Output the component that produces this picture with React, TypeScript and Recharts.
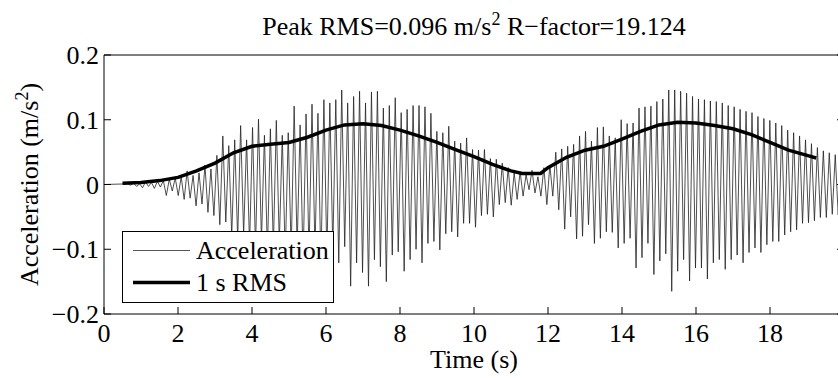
import { LineChart, Line, XAxis, YAxis, Legend, Label } from "recharts";

const xTicks = [0, 2, 4, 6, 8, 10, 12, 14, 16, 18];
const yTicks = [-0.2, -0.1, 0, 0.1, 0.2];
const legendOrder = ["Acceleration", "1 s RMS"];

// acceleration record: one upper and one lower peak per cycle (~6.2 Hz)
const accelStart = 0.64;
const accelPeriod = 0.1607;
const accelPeaks = [
  0.001, 0.002, 0.001, 0.004, 0.003, 0.005, 0.006, 0.008, 0.01, 0.012,
  0.021, 0.014, 0.018, 0.03, 0.024, 0.045, 0.075, 0.06, 0.069, 0.091,
  0.069, 0.088, 0.101, 0.076, 0.086, 0.099, 0.076, 0.08, 0.121, 0.092,
  0.109, 0.124, 0.11, 0.131, 0.126, 0.131, 0.146, 0.126, 0.136, 0.144,
  0.126, 0.143, 0.144, 0.118, 0.122, 0.134, 0.111, 0.116, 0.122, 0.122,
  0.12, 0.11, 0.082, 0.08, 0.09, 0.067, 0.064, 0.072, 0.054, 0.053,
  0.054, 0.04, 0.039, 0.033, 0.026, 0.018, 0.02, 0.015, 0.022, 0.012,
  0.026, 0.03, 0.05, 0.055, 0.059, 0.062, 0.075, 0.082, 0.067, 0.088,
  0.089, 0.075, 0.072, 0.1, 0.094, 0.095, 0.118, 0.12, 0.121, 0.128,
  0.132, 0.146, 0.146, 0.144, 0.141, 0.136, 0.132, 0.131, 0.129, 0.128,
  0.126, 0.122, 0.12, 0.116, 0.113, 0.111, 0.105, 0.102, 0.099, 0.095,
  0.091, 0.084, 0.08, 0.075, 0.069, 0.063, 0.057, 0.052, 0.049, 0.046,
  0.045,
];
const accelTroughs = [
  -0.001, -0.003, -0.005, -0.003, -0.006, -0.004, -0.017, -0.01, -0.017, -0.023,
  -0.021, -0.033, -0.03, -0.043, -0.048, -0.062, -0.058, -0.08, -0.085, -0.078,
  -0.095, -0.1, -0.088, -0.105, -0.098, -0.092, -0.112, -0.104, -0.098, -0.122,
  -0.108, -0.103, -0.128, -0.112, -0.1, -0.121, -0.096, -0.157, -0.121, -0.136,
  -0.157, -0.116, -0.127, -0.15, -0.109, -0.104, -0.134, -0.116, -0.1, -0.121,
  -0.091, -0.088, -0.101, -0.076, -0.073, -0.081, -0.06, -0.06, -0.066, -0.048,
  -0.046, -0.05, -0.031, -0.028, -0.032, -0.023, -0.018, -0.008, -0.013, -0.018,
  -0.031, -0.018, -0.039, -0.069, -0.05, -0.084, -0.08, -0.062, -0.091, -0.083,
  -0.073, -0.074, -0.098, -0.091, -0.083, -0.129, -0.113, -0.091, -0.139, -0.118,
  -0.107, -0.165, -0.134, -0.116, -0.149, -0.129, -0.129, -0.146, -0.121, -0.116,
  -0.131, -0.116, -0.109, -0.121, -0.105, -0.098, -0.105, -0.093, -0.088, -0.088,
  -0.078, -0.073, -0.07, -0.06, -0.059, -0.056, -0.051, -0.051, -0.046, -0.047,
  -0.045,
];

const rmsTimes = [
  0.5, 1, 1.5, 2, 2.5, 3, 3.5, 4, 4.5, 5, 5.5, 6, 6.5, 7, 7.5, 8, 8.5, 9, 9.5, 10,
  10.5, 11, 11.3, 11.8, 12, 12.5, 13, 13.5, 14, 14.5, 15, 15.5, 16, 16.5, 17, 17.5,
  18, 18.5, 19, 19.25,
];
const rmsValues = [
  0.002, 0.003, 0.006, 0.011, 0.021, 0.033, 0.049, 0.059, 0.062, 0.065, 0.073, 0.084,
  0.092, 0.094, 0.091, 0.084, 0.075, 0.065, 0.054, 0.043, 0.031, 0.021, 0.017, 0.017,
  0.026, 0.042, 0.053, 0.059, 0.07, 0.082, 0.092, 0.096, 0.095, 0.091, 0.086, 0.077,
  0.065, 0.053, 0.045, 0.041,
];

const accelData: { t: number; a: number }[] = [{ t: 0, a: 0 }];
accelPeaks.forEach((p, i) => {
  const t = accelStart + i * accelPeriod;
  accelData.push({ t, a: p });
  accelData.push({ t: t + accelPeriod / 2, a: accelTroughs[i] });
});
const rmsData = rmsTimes.map((t, i) => ({ t, rms: rmsValues[i] }));

const font = "'Liberation Serif', 'Times New Roman', serif";
const fmtY = (v: number) => (v < 0 ? "\u2212" + Math.abs(v) : String(v));

const BottomTick = ({ x, y, payload }: any) => (
  <g>
    <line x1={x} y1={y} x2={x} y2={y - 7} stroke="#000" />
    <text x={x} y={y + 28} textAnchor="middle" fontSize={26} fontFamily={font} fill="#000">
      {payload.value}
    </text>
  </g>
);
const TopTick = ({ x, y }: any) => <line x1={x} y1={y} x2={x} y2={y + 7} stroke="#000" />;
const LeftTick = ({ x, y, payload }: any) => (
  <g>
    <line x1={x} y1={y} x2={x + 7} y2={y} stroke="#000" />
    <text x={x - 5} y={y + 9} textAnchor="end" fontSize={26} fontFamily={font} fill="#000">
      {fmtY(payload.value)}
    </text>
  </g>
);
const RightTick = ({ x, y }: any) => <line x1={x} y1={y} x2={x - 7} y2={y} stroke="#000" />;

const LegendBox = ({ payload }: any) => {
  const entries = legendOrder
    .map((name) => (payload || []).find((e: any) => e.value === name))
    .filter(Boolean);
  return (
    <svg width={212} height={72} style={{ display: "block" }}>
      <rect x={0.5} y={0.5} width={211} height={71} fill="#fff" stroke="#000" />
      {entries.map((entry: any, i: number) => (
        <g key={entry.value}>
          <line
            x1={11}
            x2={68}
            y1={19.5 + i * 32}
            y2={19.5 + i * 32}
            stroke={i === 0 ? "#555" : "#000"}
            strokeWidth={i === 0 ? 1 : 3.5}
          />
          <text x={74} y={28 + i * 32} fontSize={26} fontFamily={font} fill="#000">
            {entry.value}
          </text>
        </g>
      ))}
    </svg>
  );
};

const App = () => {
  return (
    <div
      style={{
        position: "fixed",
        left: 0,
        top: 0,
        width: 838,
        height: 378,
        overflow: "hidden",
        background: "#fff",
      }}
    >
      <LineChart width={860} height={378} margin={{ top: 54, right: 15, bottom: 0, left: 0 }}>
        <XAxis
          dataKey="t"
          type="number"
          domain={[0, 20]}
          ticks={xTicks}
          interval={0}
          height={64}
          tickSize={0}
          tickMargin={0}
          tickLine={false}
          tick={(p: any) => <BottomTick {...p} />}
          axisLine={{ stroke: "#000" }}
          allowDataOverflow
        >
          <Label
            content={({ viewBox }: any) => (
              <text
                x={viewBox.x + viewBox.width / 2}
                y={viewBox.y + 54}
                textAnchor="middle"
                fontSize={26}
                fontFamily={font}
                fill="#000"
              >
                Time (s)
              </text>
            )}
          />
        </XAxis>
        <XAxis
          xAxisId="top"
          orientation="top"
          type="number"
          domain={[0, 20]}
          ticks={xTicks}
          interval={0}
          height={1}
          tickSize={0}
          tickMargin={0}
          tickLine={false}
          tick={(p: any) => <TopTick {...p} />}
          axisLine={{ stroke: "#000" }}
          allowDataOverflow
        >
          <Label
            content={({ viewBox }: any) => (
              <text
                x={viewBox.x + viewBox.width / 2}
                y={viewBox.y + viewBox.height - 20}
                textAnchor="middle"
                fontSize={26}
                fontFamily={font}
                fill="#000"
              >
                Peak RMS=0.096 m/s
                <tspan dy={-10} fontSize={18}>2</tspan>
                <tspan dy={10}> R{"\u2212"}factor=19.124</tspan>
              </text>
            )}
          />
        </XAxis>
        <YAxis
          type="number"
          domain={[-0.2, 0.2]}
          ticks={yTicks}
          interval={0}
          width={104}
          tickSize={0}
          tickMargin={0}
          tickLine={false}
          tick={(p: any) => <LeftTick {...p} />}
          axisLine={{ stroke: "#000" }}
          allowDataOverflow
        >
          <Label
            content={({ viewBox }: any) => {
              const cx = 38;
              const cy = viewBox.y + viewBox.height / 2;
              return (
                <text
                  x={cx}
                  y={cy}
                  transform={`rotate(-90, ${cx}, ${cy})`}
                  textAnchor="middle"
                  fontSize={26}
                  fontFamily={font}
                  fill="#000"
                >
                  Acceleration (m/s
                  <tspan dy={-10} fontSize={18}>2</tspan>
                  <tspan dy={10}>)</tspan>
                </text>
              );
            }}
          />
        </YAxis>
        <YAxis
          yAxisId="right"
          orientation="right"
          type="number"
          domain={[-0.2, 0.2]}
          ticks={yTicks}
          interval={0}
          width={1}
          tickSize={0}
          tickMargin={0}
          tickLine={false}
          tick={(p: any) => <RightTick {...p} />}
          axisLine={{ stroke: "#000" }}
          allowDataOverflow
        />
        <Legend
          layout="horizontal"
          verticalAlign="middle"
          align="center"
          content={(props: any) => <LegendBox {...props} />}
          wrapperStyle={{ left: 122, top: 231, width: 212, height: 72 }}
        />
        <Line
          data={accelData}
          dataKey="a"
          name="Acceleration"
          type="linear"
          stroke="#222"
          strokeWidth={0.8}
          dot={false}
          activeDot={false}
          isAnimationActive={false}
        />
        <Line
          data={rmsData}
          dataKey="rms"
          name="1 s RMS"
          type="linear"
          stroke="#000"
          strokeWidth={3.5}
          dot={false}
          activeDot={false}
          isAnimationActive={false}
        />
      </LineChart>
    </div>
  );
};

export default App;
